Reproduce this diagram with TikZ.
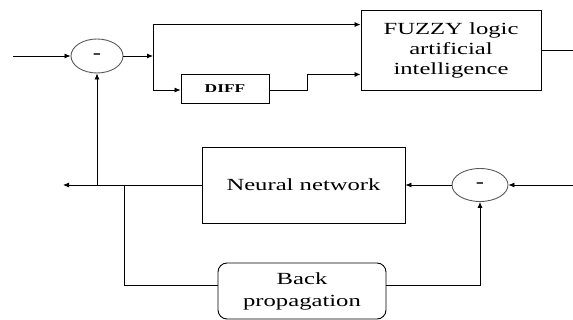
\documentclass[tikz,border=0pt]{standalone}
\usepackage{fontspec}
\setmainfont{Liberation Serif}[FakeStretch=1.45]
\usetikzlibrary{arrows.meta, shapes.geometric, positioning}

\tikzset{
  block/.style={draw, line width=0.9pt, inner sep=0pt, align=center,
    font=\fontsize{17}{20}\selectfont},
  roundblock/.style={block, rounded corners=9pt, font=\fontsize{17}{22}\selectfont},
  sumnode/.style={draw, gray!70!black, line width=0.9pt, ellipse, inner sep=0pt,
    text=black, font=\fontsize{17}{20}\selectfont\bfseries},
  arr/.style={-{Latex[length=6pt,width=5pt]}, line width=0.8pt}
}

\begin{document}
\begin{tikzpicture}[x=1pt, y=-1pt]
    \useasboundingbox (0,0) rectangle (573,320);

    % controller branch
    \node[sumnode, minimum width=52pt, minimum height=34pt] (sumA) at (97,56) {-};
    \node[block, minimum width=88pt, minimum height=29pt,
      font=\fontsize{12}{14}\selectfont\bfseries] (diff) at (225,88.5) {DIFF};
    \node[block, minimum width=180pt, minimum height=80pt] (fuzzy) at (451,50)
      {FUZZY logic\\artificial\\intelligence};

    % neural network branch
    \node[block, minimum width=203pt, minimum height=76pt] (nn) at (303.5,185) {Neural network};
    \node[roundblock, minimum width=168pt, minimum height=56pt] (bp) at (302,291)
      {Back\\propagation};
    \node[sumnode, minimum width=56pt, minimum height=33pt] (sumB) at (480,185) {-};

    \coordinate (in) at (13,56);
    \coordinate (split) at (153,56);
    \coordinate (out) at (573,50);
    \coordinate (inB) at (573,185);
    \coordinate (fbout) at (63,185);
    \coordinate (tapB) at (124,185);

    \draw[arr] (in) -- (sumA);
    \draw[arr] (sumA) -- (split);
    \draw[arr] (split) |- ([yshift=-15pt]fuzzy.north west);
    \draw[arr] (split) |- ([yshift=-1.5pt]diff.west);
    \draw[arr] ([yshift=-1.5pt]diff.east) -- ++(38,0) |- ([yshift=16pt]fuzzy.south west);
    \draw[line width=0.8pt] (fuzzy.east) -- (out);

    \draw[arr] (inB) -- (sumB);
    \draw[arr] (sumB) -- (nn);
    \draw[arr] (nn.west) -- (fbout);
    \draw[arr] (sumA |- nn.west) -- (sumA);
    \draw[line width=0.8pt] (tapB) |- ([yshift=6pt]bp.west);
    \draw[arr] ([yshift=6pt]bp.east) -| (sumB);
\end{tikzpicture}
\end{document}
